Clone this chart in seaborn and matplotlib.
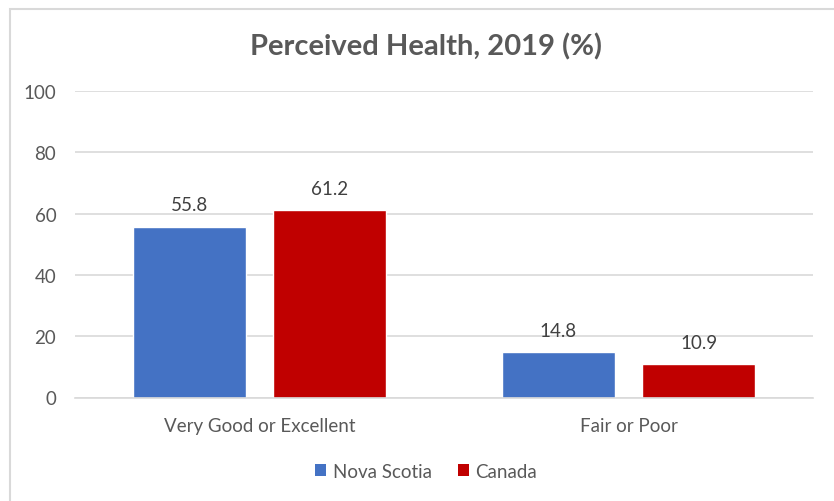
import matplotlib
matplotlib.use("Agg")
import matplotlib.pyplot as plt
from matplotlib.patches import Patch, Rectangle
import seaborn as sns
import pandas as pd

categories = ["Very Good or Excellent", "Fair or Poor"]
regions = ["Nova Scotia", "Canada"]
nova_scotia = [55.8, 14.8]
canada = [61.2, 10.9]
y_ticks = [0, 20, 40, 60, 80, 100]
palette = {"Nova Scotia": "#4472C4", "Canada": "#C00000"}

df = pd.DataFrame({
    "category": categories * 2,
    "region": [regions[0]] * len(categories) + [regions[1]] * len(categories),
    "value": nova_scotia + canada,
})

sns.set_theme(style="white")
plt.rcParams["font.family"] = ["Lato", "DejaVu Sans"]

W, H = 834, 502
fig = plt.figure(figsize=(W / 100, H / 100), dpi=100)
ax = fig.add_axes([75 / W, 1 - 398.5 / H, 738 / W, 306.3 / H])

sns.barplot(data=df, x="category", y="value", hue="region", order=categories,
            hue_order=regions, palette=palette, width=0.76, gap=0.193,
            saturation=1, legend=False, ax=ax)

for container in ax.containers:
    ax.bar_label(container, fmt="%.1f", padding=9.5, fontsize=13.5, color="#404040")

ax.set_ylim(0, 100)
ax.set_xlim(-0.5, 1.5)
ax.set_yticks(y_ticks)
ax.yaxis.grid(True, color="#D9D9D9", linewidth=1.2)
ax.set_axisbelow(True)
for side in ["top", "right", "left"]:
    ax.spines[side].set_visible(False)
ax.spines["bottom"].set_color("#D9D9D9")
ax.spines["bottom"].set_linewidth(1.2)
ax.tick_params(axis="both", length=0, labelsize=13.5, colors="#595959")
ax.tick_params(axis="y", pad=13.5)
ax.tick_params(axis="x", pad=14)
ax.set_xlabel("")
ax.set_ylabel("")

center_x = 426 / W
fig.text(center_x, 1 - 55 / H, "Perceived Health, 2019 (%)", ha="center", va="baseline",
         fontsize=21, fontweight="bold", color="#595959")

handles = [Patch(facecolor=palette[r], edgecolor="none", label=r) for r in regions]
fig.legend(handles=handles, loc="center", bbox_to_anchor=(center_x, 1 - 472 / H), ncol=2,
           frameon=False, fontsize=13.5, handlelength=0.6, handleheight=0.6,
           handletextpad=0.35, columnspacing=1.4, labelcolor="#595959")

# outer chart-area frame
fig.patches.append(Rectangle((10 / W, -0.1), 1.2, 1 - 10 / H + 0.1,
                             transform=fig.transFigure, fill=False,
                             edgecolor="#D9D9D9", linewidth=1.5))

fig.savefig("out.png", dpi=100)
